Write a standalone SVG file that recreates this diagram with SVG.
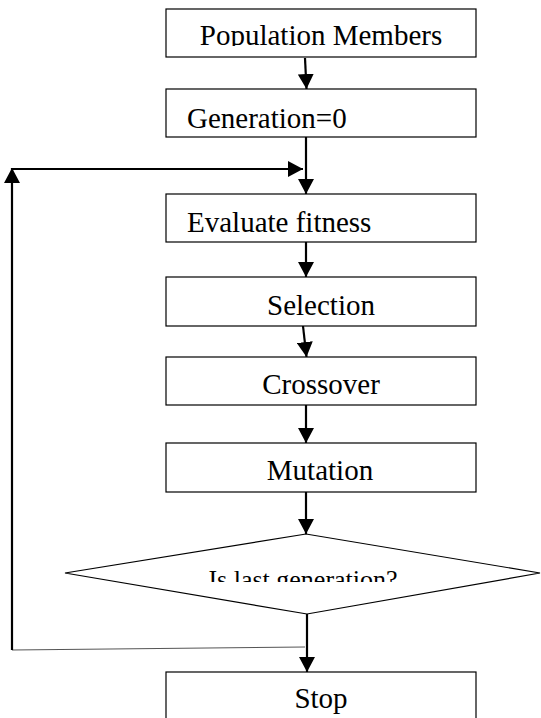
<svg xmlns="http://www.w3.org/2000/svg" width="541" height="718" viewBox="0 0 541 718">
<style>
.box{fill:#fff;stroke:#000;stroke-width:1.2}
.t{font-family:"Liberation Serif","Times New Roman",serif;font-size:29px;fill:#000}
.c{stroke:#000;stroke-width:2.2;fill:none}
.thin{stroke:#555;stroke-width:1.2;fill:none}
</style>
<defs>
<marker id="ah" markerUnits="userSpaceOnUse" markerWidth="15" markerHeight="16" refX="15" refY="8" orient="auto">
<path d="M0,0 L15,8 L0,16 z" fill="#000"/>
</marker>
<clipPath id="clip1"><rect x="166" y="9" width="310" height="37"/></clipPath>
<clipPath id="clipD"><rect x="60" y="530" width="481" height="52"/></clipPath>
</defs>
<rect width="541" height="718" fill="#fff"/>
<g id="connectors">
<line class="c" x1="305" y1="58" x2="306.5" y2="89" marker-end="url(#ah)"/>
<line class="c" x1="306" y1="137" x2="306" y2="194" marker-end="url(#ah)"/>
<line class="c" x1="306" y1="242" x2="306" y2="277" marker-end="url(#ah)"/>
<line class="c" x1="303" y1="326" x2="306.5" y2="357" marker-end="url(#ah)"/>
<line class="c" x1="306" y1="405" x2="306" y2="443" marker-end="url(#ah)"/>
<line class="c" x1="306" y1="492" x2="306" y2="534" marker-end="url(#ah)"/>
<line class="c" x1="307" y1="614" x2="307" y2="672" marker-end="url(#ah)"/>
<line class="thin" x1="305" y1="647" x2="12" y2="650"/>
<line class="c" x1="12" y1="650" x2="12" y2="168" stroke-width="2.5" marker-end="url(#ah)"/>
<line class="c" x1="11" y1="169" x2="303" y2="169" stroke-width="2.5" marker-end="url(#ah)"/>
</g>
<g id="population">
<rect class="box" x="166" y="9" width="310" height="48"/>
<text class="t" x="321" y="45" text-anchor="middle" clip-path="url(#clip1)">Population Members</text>
</g>
<g id="generation">
<rect class="box" x="166" y="89" width="310" height="48"/>
<text class="t" x="187" y="128">Generation=0</text>
</g>
<g id="evaluate">
<rect class="box" x="166" y="194" width="310" height="48"/>
<text class="t" x="187" y="232">Evaluate fitness</text>
</g>
<g id="selection">
<rect class="box" x="166" y="277" width="310" height="49"/>
<text class="t" x="321" y="315" text-anchor="middle">Selection</text>
</g>
<g id="crossover">
<rect class="box" x="166" y="357" width="310" height="48"/>
<text class="t" x="321" y="394" text-anchor="middle">Crossover</text>
</g>
<g id="mutation">
<rect class="box" x="166" y="443" width="310" height="49"/>
<text class="t" x="320" y="480" text-anchor="middle">Mutation</text>
</g>
<g id="decision">
<polygon class="box" points="65,573 306,534 540,573 307,614"/>
<text class="t" x="303" y="588" text-anchor="middle" font-size="26" style="font-size:26px" clip-path="url(#clipD)">Is last generation?</text>
</g>
<g id="stop">
<rect class="box" x="166" y="672" width="310" height="60"/>
<text class="t" x="321" y="708" text-anchor="middle">Stop</text>
</g>
</svg>
